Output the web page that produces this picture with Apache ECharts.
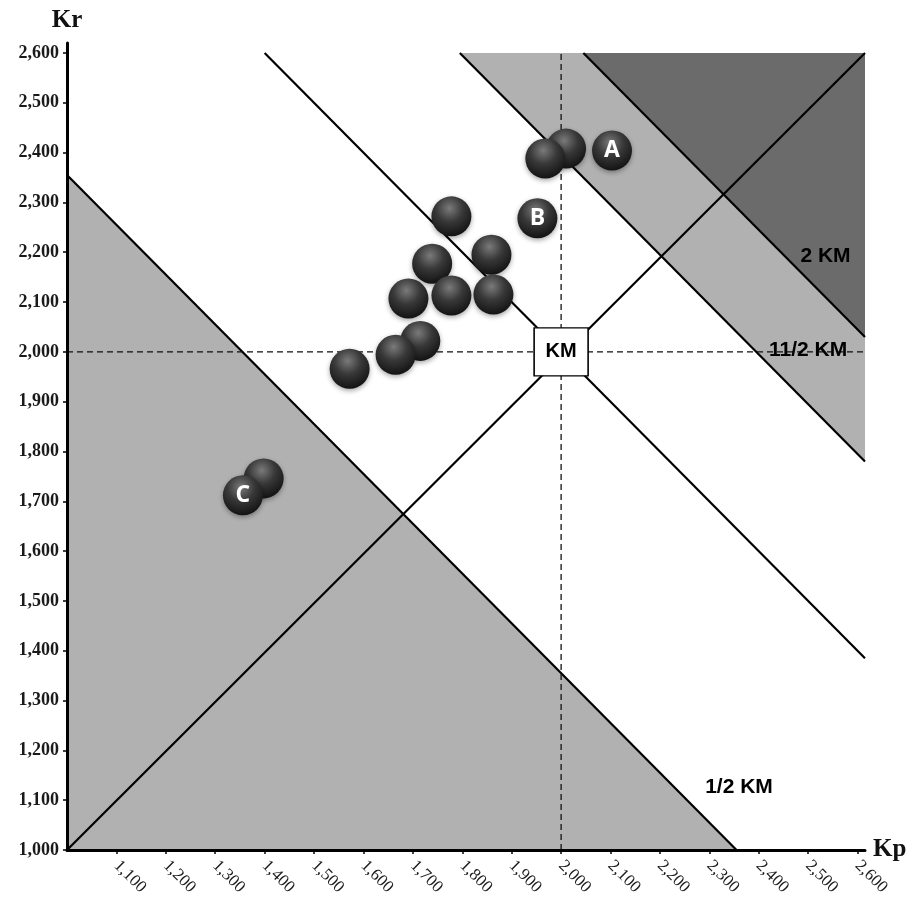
<!DOCTYPE html>
<html><head><meta charset="utf-8">
<script src="https://cdn.jsdelivr.net/npm/echarts@6/dist/echarts.min.js"></script>
<style>html,body{margin:0;padding:0;background:#fff}#c{width:919px;height:899px}</style>
</head><body><div id="c"></div>
<script>
// ---- data ----
const xTicks = [1100,1200,1300,1400,1500,1600,1700,1800,1900,2000,2100,2200,2300,2400,2500,2600];
const yTicks = [1000,1100,1200,1300,1400,1500,1600,1700,1800,1900,2000,2100,2200,2300,2400,2500,2600];
const xMin = 1000, xMax = 2615, yMin = 1000, yTop = 2600, yAxisMax = 2620;
// boundary lines: Kp + Kr = constant
const halfKM = 3355, km = 4000, oneHalfKM = 4395, twoKM = 4645;
const kmPoint = [2000, 2000];
const ballX = [2010, 1968, 2103, 1952, 1778, 1859, 1739, 1691, 1778, 1863, 1715, 1665, 1572, 1398, 1356];
const ballY = [2408, 2388, 2404, 2268, 2272, 2195, 2177, 2107, 2113, 2115, 2022, 1994, 1966, 1746, 1712];
const ballTag = ['', '', 'A', 'B', '', '', '', '', '', '', '', '', '', '', 'C'];
const zoneTag = ['2 KM', '11/2 KM', '1/2 KM'];
const zoneTagX = [2535, 2500, 2360];
const zoneTagY = [2193, 2004, 1127];

// ---- build ----
const fmt = v => Number(v).toLocaleString('en-US');
const zones = [
  [[xMin, yMin], [xMin, halfKM - xMin], [halfKM - yMin, yMin]],
  [[oneHalfKM - yTop, yTop], [twoKM - yTop, yTop], [xMax, twoKM - xMax], [xMax, oneHalfKM - xMax]],
  [[twoKM - yTop, yTop], [xMax, yTop], [xMax, twoKM - xMax]]
];
const zoneFill = ['#b1b1b1', '#b1b1b1', '#6b6b6b'];

const lines = [
  [[xMin, halfKM - xMin], [halfKM - yMin, yMin]],
  [[km - yTop, yTop], [xMax, km - xMax]],
  [[oneHalfKM - yTop, yTop], [xMax, oneHalfKM - xMax]],
  [[twoKM - yTop, yTop], [xMax, twoKM - xMax]],
  [[xMin, yMin], [xMax, yTop]]
];
const dashed = [
  [[kmPoint[0], yMin], [kmPoint[0], yTop]],
  [[xMin, kmPoint[1]], [xMax, kmPoint[1]]]
];

const series = [];
series.push({
  type: 'custom', z: 1, silent: true, animation: false,
  data: zones.map((z, i) => [i]),
  renderItem: (params, api) => {
    const pts = zones[params.dataIndex].map(p => api.coord(p));
    return { type: 'polygon', shape: { points: pts }, style: { fill: zoneFill[params.dataIndex], stroke: null } };
  }
});
lines.forEach(l => series.push({
  type: 'line', z: 3, silent: true, animation: false, symbol: 'none',
  data: l, lineStyle: { color: '#000', width: 2.2 }
}));
dashed.forEach(l => series.push({
  type: 'line', z: 3, silent: true, animation: false, symbol: 'none',
  data: l, lineStyle: { color: '#111', width: 1.3, type: [6, 4] }
}));
series.push({
  type: 'scatter', z: 4, silent: true, animation: false,
  symbol: 'rect', symbolSize: [54, 48],
  data: [kmPoint],
  itemStyle: { color: '#fff', borderColor: '#000', borderWidth: 1.5, opacity: 1 },
  label: { show: true, position: 'inside', formatter: 'KM', color: '#000',
    fontFamily: 'Liberation Sans', fontWeight: 'bold', fontSize: 20 }
});
const ballGrad = { type: 'radial', x: 0.45, y: 0.3, r: 0.75, colorStops: [
  { offset: 0, color: '#7a7a7a' }, { offset: 0.45, color: '#383838' }, { offset: 1, color: '#0e0e0e' }] };
series.push({
  type: 'scatter', z: 5, silent: true, animation: false,
  symbolSize: 40,
  data: ballX.map((x, i) => ({ value: [x, ballY[i]], name: ballTag[i] })),
  itemStyle: { color: ballGrad, opacity: 1, shadowBlur: 5, shadowColor: 'rgba(0,0,0,0.35)', shadowOffsetY: 2 },
  label: { show: true, position: 'inside', formatter: p => p.name, color: '#fff',
    fontFamily: 'Open Sans', fontWeight: 'bold', fontSize: 23 }
});
series.push({
  type: 'scatter', z: 6, silent: true, animation: false,
  symbolSize: 1,
  data: zoneTagX.map((x, i) => ({ value: [x, zoneTagY[i]], name: zoneTag[i] })),
  itemStyle: { color: 'rgba(0,0,0,0)', opacity: 1 },
  label: { show: true, position: 'inside', formatter: p => p.name, color: '#000',
    fontFamily: 'Liberation Sans', fontWeight: 'bold', fontSize: 21 }
});

const axisFont = { fontFamily: 'Liberation Serif', color: '#1a1a1a' };
const chart = echarts.init(document.getElementById('c'), null, { renderer: 'canvas' });
chart.setOption({
  animation: false,
  backgroundColor: '#fff',
  grid: { left: 67, right: 54, top: 43, bottom: 49, containLabel: false },
  xAxis: {
    type: 'value', min: xMin, max: xMax, z: 10,
    name: 'Kp', nameLocation: 'end', nameGap: 8,
    nameTextStyle: { fontFamily: 'Liberation Serif', fontWeight: 'bold', fontSize: 25, color: '#111', verticalAlign: 'middle' },
    axisLine: { lineStyle: { color: '#000', width: 3 } },
    axisTick: { show: true, customValues: xTicks, length: 4, lineStyle: { color: '#000', width: 1.5 } },
    axisLabel: { customValues: xTicks, rotate: -45, margin: 13, formatter: fmt, fontSize: 17, ...axisFont },
    splitLine: { show: false }
  },
  yAxis: {
    type: 'value', min: yMin, max: yAxisMax, z: 10,
    name: 'Kr', nameLocation: 'end', nameGap: 10,
    nameTextStyle: { fontFamily: 'Liberation Serif', fontWeight: 'bold', fontSize: 25, color: '#111', align: 'center' },
    axisLine: { lineStyle: { color: '#000', width: 3 } },
    axisTick: { show: true, customValues: yTicks, length: 4, lineStyle: { color: '#000', width: 1.5 } },
    axisLabel: { customValues: yTicks, margin: 8, formatter: fmt, fontSize: 18, fontWeight: 'bold', ...axisFont },
    splitLine: { show: false }
  },
  series
});
</script></body></html>
